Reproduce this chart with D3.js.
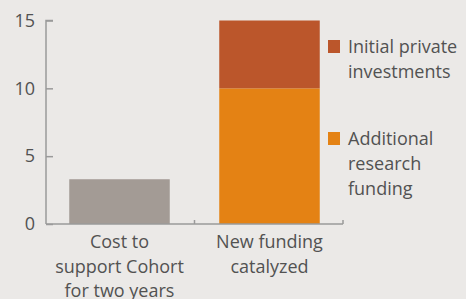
<!DOCTYPE html>
<html lang="en">
<head>
  <meta charset="UTF-8" />
  <title>New funding catalyzed</title>
  <style>
    body { margin: 0; padding: 0; background: #ebe9e7; }
    svg { display: block; font-family: "Open Sans", sans-serif; }
    .lbl { fill: #525252; font-size: 18px; }
  </style>
</head>
<body>
  <svg id="chart" width="466" height="299"></svg>
  <script src="https://d3js.org/d3.v7.min.js"></script>
  <script>
    const categories = ["Cost to support Cohort for two years", "New funding catalyzed"];
    const catLines = [["Cost to", "support Cohort", "for two years"], ["New funding", "catalyzed"]];
    const seriesNames = ["Additional research funding", "Initial private investments", "Cost"];
    const additional = [0, 10];
    const initialPrivate = [0, 5];
    const cost = [3.3, 0];
    const yTicks = [0, 5, 10, 15];

    const colors = { "Cost": "#a39b95", "Additional research funding": "#e48214", "Initial private investments": "#bb562b" };

    const svg = d3.select("#chart");
    const x0 = 46, x1 = 343, yTop = 20.5, yBot = 224;

    const x = d3.scaleBand().domain(categories).range([x0, x1])
      .paddingInner(0.33).paddingOuter(0.155);
    const y = d3.scaleLinear().domain([0, 15]).range([yBot, yTop]);

    // stacked data
    const rows = categories.map((c, i) => ({
      cat: c,
      "Cost": cost[i],
      "Additional research funding": additional[i],
      "Initial private investments": initialPrivate[i]
    }));
    const stack = d3.stack().keys(["Cost", "Additional research funding", "Initial private investments"]);
    const layers = stack(rows);

    layers.forEach(layer => {
      svg.append("g").selectAll("rect")
        .data(layer.filter(d => d[1] > d[0]))
        .enter().append("rect")
        .attr("x", d => x(d.data.cat))
        .attr("width", x.bandwidth())
        .attr("y", d => y(d[1]))
        .attr("height", d => y(d[0]) - y(d[1]))
        .attr("fill", colors[layer.key]);
    });

    // y axis (ticks pointing inward)
    const yAxis = svg.append("g")
      .attr("transform", `translate(${x0},0)`)
      .call(d3.axisRight(y).tickValues(yTicks).tickSize(7).tickFormat(""));
    yAxis.select(".domain").attr("stroke", "#9a9a9a").attr("stroke-width", 1.5)
      .attr("d", `M7,${yTop}H0V${yBot}`);
    yAxis.selectAll(".tick line").attr("stroke", "#9a9a9a").attr("stroke-width", 1.5);

    svg.append("g").selectAll("text")
      .data(yTicks).enter().append("text")
      .attr("class", "lbl")
      .attr("x", 35).attr("y", d => y(d)).attr("dy", "0.35em")
      .attr("text-anchor", "end")
      .text(d => d);

    // x axis baseline with separator ticks
    svg.append("line").attr("x1", x0).attr("x2", x1).attr("y1", yBot).attr("y2", yBot)
      .attr("stroke", "#9a9a9a").attr("stroke-width", 1.5);
    const seps = [x(categories[1]) - x.step() * x.paddingInner() / 2, x1];
    svg.append("g").selectAll("line").data(seps).enter().append("line")
      .attr("x1", d => d).attr("x2", d => d).attr("y1", yBot).attr("y2", yBot - 4)
      .attr("stroke", "#9a9a9a").attr("stroke-width", 1.5);

    // category labels
    categories.forEach((c, i) => {
      svg.append("text").attr("class", "lbl")
        .attr("text-anchor", "middle")
        .attr("x", x(c) + x.bandwidth() / 2)
        .selectAll("tspan").data(catLines[i]).enter().append("tspan")
        .attr("x", x(c) + x.bandwidth() / 2)
        .attr("y", (d, j) => 248 + j * 24.5)
        .text(d => d);
    });

    // legend
    const legend = [
      { key: "Initial private investments", lines: ["Initial private", "investments"], y: 40 },
      { key: "Additional research funding", lines: ["Additional", "research", "funding"], y: 132 }
    ];
    legend.forEach(l => {
      svg.append("rect").attr("x", 328).attr("y", l.y).attr("width", 12).attr("height", 13)
        .attr("fill", colors[l.key]);
      svg.append("text").attr("class", "lbl")
        .selectAll("tspan").data(l.lines).enter().append("tspan")
        .attr("x", 348).attr("y", (d, j) => l.y + 13 + j * 25)
        .text(d => d);
    });
  </script>
</body>
</html>
